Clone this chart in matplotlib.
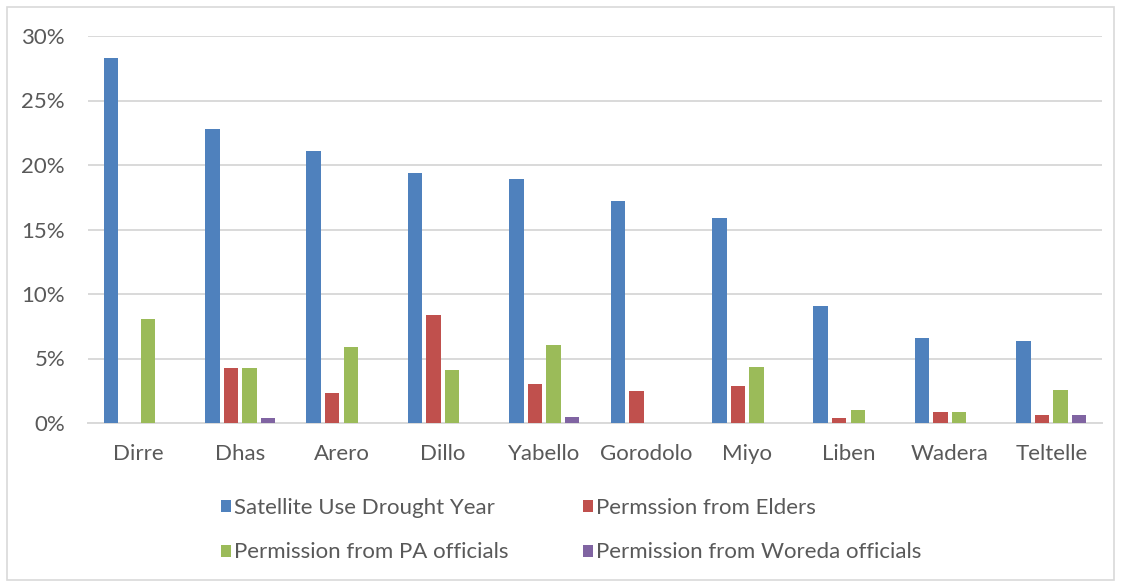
import matplotlib
matplotlib.use("Agg")
import matplotlib.pyplot as plt
import numpy as np
from matplotlib.patches import Rectangle, Patch
from matplotlib.ticker import FuncFormatter

categories = ["Dirre", "Dhas", "Arero", "Dillo", "Yabello", "Gorodolo", "Miyo", "Liben", "Wadera", "Teltelle"]
satellite = [28.3, 22.8, 21.1, 19.4, 18.9, 17.2, 15.9, 9.07, 6.62, 6.36]
elders = [0.0, 4.24, 2.36, 8.35, 3.0, 2.46, 2.9, 0.39, 0.88, 0.65]
pa_officials = [8.09, 4.24, 5.87, 4.14, 6.08, 0.0, 4.32, 0.98, 0.88, 2.53]
woreda_officials = [0.0, 0.39, 0.0, 0.0, 0.47, 0.0, 0.0, 0.0, 0.0, 0.65]

series_names = ["Satellite Use Drought Year", "Permssion from Elders",
                "Permission from PA officials", "Permission from Woreda officials"]
series = [satellite, elders, pa_officials, woreda_officials]
colors = ["#4F81BD", "#C0504D", "#9BBB59", "#8064A2"]

plt.rcParams['font.family'] = ['Lato', 'DejaVu Sans']

fig = plt.figure(figsize=(11.21, 5.82), dpi=100)
ax = fig.add_axes([88/1121, 1-423/582, (1102-88)/1121, (423-36)/582])

x = np.arange(len(categories))
step = 0.1825
width = 0.143
for i, (vals, c) in enumerate(zip(series, colors)):
    ax.bar(x + (i - 1.5) * step, vals, width=width, color=c, zorder=3)

ax.set_xlim(-0.5, len(categories) - 0.5)
ax.set_ylim(0, 30)
ax.set_yticks(np.arange(0, 31, 5))
ax.yaxis.set_major_formatter(FuncFormatter(lambda v, p: f"{int(v)}%"))
ax.grid(axis='y', color='#d9d9d9', linewidth=1.4, zorder=0)
ax.set_xticks(x)
ax.set_xticklabels(categories)
for s in ['top', 'right', 'left']:
    ax.spines[s].set_visible(False)
ax.spines['bottom'].set_color('#d9d9d9')
ax.spines['bottom'].set_linewidth(1.4)
ax.tick_params(axis='both', length=0, labelsize=16, colors='#595959')
ax.tick_params(axis='x', pad=15)
ax.tick_params(axis='y', pad=16.5)

handles = [Patch(facecolor=c, label=n) for c, n in zip(colors, series_names)]
# row-major order for a 2-column legend
order = [0, 2, 1, 3]
leg = fig.legend(handles=[handles[k] for k in order], ncol=2, loc='upper left',
                 bbox_to_anchor=(205/1121, 1-482/582), frameon=False,
                 fontsize=16, handlelength=0.45, handleheight=0.45,
                 handletextpad=0.15, columnspacing=3.35, labelspacing=1.12,
                 labelcolor='#595959', borderpad=0.2)

fig.patches.append(Rectangle((7/1121, 1-580/582), 1107/1121, 573/582,
                             transform=fig.transFigure, fill=False,
                             edgecolor='#d9d9d9', linewidth=1.2))

fig.savefig("out.png", dpi=100)
